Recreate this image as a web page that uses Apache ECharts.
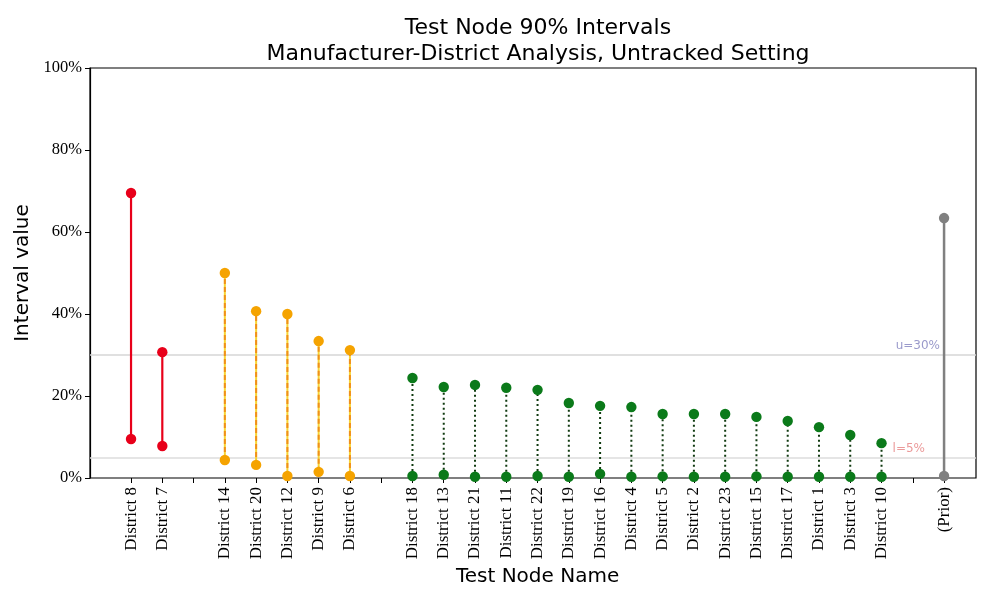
<!DOCTYPE html>
<html><head><meta charset="utf-8">
<script src="https://cdn.jsdelivr.net/npm/echarts@6/dist/echarts.min.js"></script>
<style>html,body{margin:0;padding:0;background:#fff}#c{width:1000px;height:600px}</style>
</head><body><div id="c"></div>
<script>
const categories = ['District 8','District 7',' ','District 14','District 20','District 12','District 9','District 6','  ',
  'District 18','District 13','District 21','District 11','District 22','District 19','District 16','District 4','District 5',
  'District 2','District 23','District 15','District 17','District 1','District 3','District 10','   ','(Prior)'];
const yTicks = [0, 20, 40, 60, 80, 100];

const redNames = ['District 8','District 7'];
const redLow   = [9.5, 7.8];
const redHigh  = [69.5, 30.7];

const orangeNames = ['District 14','District 20','District 12','District 9','District 6'];
const orangeLow   = [4.4, 3.2, 0.5, 1.5, 0.5];
const orangeHigh  = [50.0, 40.7, 40.0, 33.4, 31.2];

const greenNames = ['District 18','District 13','District 21','District 11','District 22','District 19','District 16','District 4',
  'District 5','District 2','District 23','District 15','District 17','District 1','District 3','District 10'];
const greenLow  = [0.5, 0.8, 0.3, 0.3, 0.5, 0.3, 1.0, 0.3, 0.4, 0.3, 0.3, 0.4, 0.3, 0.3, 0.3, 0.3];
const greenHigh = [24.4, 22.2, 22.7, 22.0, 21.5, 18.3, 17.6, 17.3, 15.6, 15.6, 15.6, 14.9, 13.9, 12.4, 10.5, 8.5];

const priorNames = ['(Prior)'];
const priorLow   = [0.5];
const priorHigh  = [63.4];

const upperRef = 30, lowerRef = 5;

function build(names, lows, highs) {
  return names.map((n, i) => [categories.indexOf(n), lows[i], highs[i]]);
}

function makeSeries(name, data, lineStyles, markerColor) {
  return {
    name, type: 'custom', xAxisIndex: 1, yAxisIndex: 1, z: 5,
    data,
    renderItem: function (params, api) {
      const p1 = api.coord([api.value(0), api.value(1)]);
      const p2 = api.coord([api.value(0), api.value(2)]);
      const children = lineStyles.map(st => ({
        type: 'line',
        shape: { x1: p1[0], y1: p1[1], x2: p2[0], y2: p2[1] },
        style: Object.assign({ fill: null }, st)
      }));
      children.push({ type: 'circle', shape: { cx: p1[0], cy: p1[1], r: 5.2 }, style: { fill: markerColor } });
      children.push({ type: 'circle', shape: { cx: p2[0], cy: p2[1], r: 5.2 }, style: { fill: markerColor } });
      return { type: 'group', children };
    }
  };
}

const chart = echarts.init(document.getElementById('c'), null, { renderer: 'canvas' });
const serif = 'Liberation Serif';
const sans = 'DejaVu Sans';

chart.setOption({
  animation: false,
  backgroundColor: '#fff',
  title: {
    text: 'Test Node 90% Intervals\nManufacturer-District Analysis, Untracked Setting',
    left: 533, top: 10, textAlign: 'center',
    textStyle: { fontFamily: sans, fontSize: 22, fontWeight: 'normal', color: '#000', lineHeight: 26 }
  },
  grid: [
    { left: 90, right: 24, top: 68, bottom: 122, show: true, borderColor: '#000', borderWidth: 1.2, backgroundColor: 'transparent' },
    { left: 115.4, right: 40.3, top: 68, bottom: 122 }
  ],
  xAxis: [
    { gridIndex: 0, type: 'value', min: 0, max: 1, show: false },
    {
      gridIndex: 1, type: 'category', data: categories, boundaryGap: true,
      axisLine: { show: false },
      axisTick: { show: true, alignWithLabel: true, interval: 0, length: 5, lineStyle: { color: '#000', width: 1 } },
      axisLabel: { interval: 0, rotate: 90, fontFamily: serif, fontSize: 17, color: '#000', margin: 9 },
      name: 'Test Node Name', nameLocation: 'middle', nameGap: 84,
      nameTextStyle: { fontFamily: sans, fontSize: 20, color: '#000' }
    }
  ],
  yAxis: [
    {
      gridIndex: 0, type: 'value', min: yTicks[0], max: yTicks[yTicks.length - 1], interval: 20,
      axisLine: { show: true, lineStyle: { color: '#000', width: 1.2 } },
      axisTick: { show: true, length: 5, lineStyle: { color: '#000' } },
      axisLabel: { formatter: '{value}%', fontFamily: serif, fontSize: 16.5, color: '#000', margin: 8 },
      splitLine: { show: false },
      name: 'Interval value', nameLocation: 'middle', nameGap: 57,
      nameTextStyle: { fontFamily: sans, fontSize: 20, color: '#000' }
    },
    { gridIndex: 1, type: 'value', min: 0, max: 100, show: false }
  ],
  series: [
    {
      type: 'line', xAxisIndex: 0, yAxisIndex: 0, data: [], z: 1,
      markLine: {
        silent: true, symbol: 'none', animation: false,
        data: [
          { yAxis: upperRef, lineStyle: { color: '#d6d6d6', width: 1.5, type: 'solid' },
            label: { formatter: 'u=30%', position: 'insideEndTop', distance: [36, 3], color: '#9a9acb', fontFamily: 'DejaVu Sans', fontSize: 12 } },
          { yAxis: lowerRef, lineStyle: { color: '#dcdcdc', width: 1.5, type: 'solid' },
            label: { formatter: 'l=5%', position: 'insideEndTop', distance: [51, 3], color: '#eb9a9a', fontFamily: 'DejaVu Sans', fontSize: 12 } }
        ]
      }
    },
    makeSeries('red', build(redNames, redLow, redHigh), [{ stroke: '#e8001a', lineWidth: 2.2 }], '#e8001a'),
    makeSeries('orange', build(orangeNames, orangeLow, orangeHigh),
      [{ stroke: '#f7d433', lineWidth: 2 }, { stroke: '#f0901a', lineWidth: 2, lineDash: [5, 3] }], '#f5a300'),
    makeSeries('green', build(greenNames, greenLow, greenHigh),
      [{ stroke: '#103a10', lineWidth: 2, lineDash: [2, 3] }], '#0b7a1a'),
    makeSeries('prior', build(priorNames, priorLow, priorHigh), [{ stroke: '#808080', lineWidth: 2.5 }], '#808080')
  ]
});
</script>
</body></html>
